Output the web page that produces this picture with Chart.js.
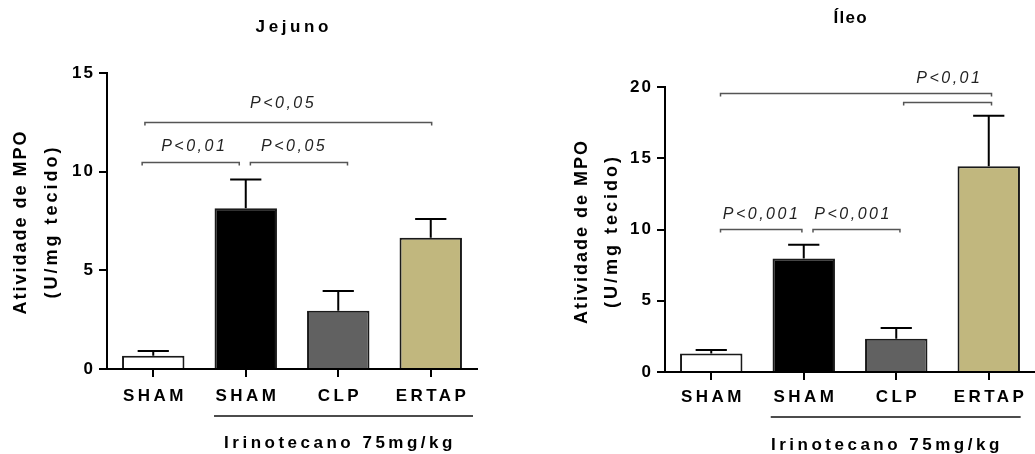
<!DOCTYPE html>
<html>
<head>
<meta charset="utf-8">
<script src="https://cdn.jsdelivr.net/npm/chart.js@4.4.0/dist/chart.umd.min.js"></script>
<style>
html, body { margin: 0; padding: 0; background: #fff; }
#wrap { position: relative; width: 1035px; height: 454px; overflow: hidden; }
#c1 { position: absolute; left: 0; top: 0; }
#c2 { position: absolute; left: 517px; top: 0; }
</style>
</head>
<body>
<div id="wrap">
	<canvas id="c1" width="517" height="454"></canvas>
	<canvas id="c2" width="518" height="454"></canvas>
</div>
<script>
// groups on the x axis
var groups = ['SHAM', 'SHAM', 'CLP', 'ERTAP'];
var groupLabel = 'Irinotecano 75mg/kg';
var yTitle = ['Atividade de MPO', '(U/mg tecido)'];

// Jejuno: mean and SEM
var jejunoMean = [0.67, 8.15, 2.95, 6.65];
var jejunoSem = [0.24, 1.45, 1.0, 0.95];
var jejunoMax = 15;
// brackets: [from category, to category, y value]
var jejunoBrackets = [[-0.12, 0.93, 10.5], [1.05, 2.1, 10.5], [-0.09, 3.01, 12.5]];
// significance labels: [text, category, y value]
var jejunoP = [['P<0,01', 0.43, 11.25], ['P<0,05', 1.51, 11.25], ['P<0,05', 1.39, 13.45]];

// Ileo
var ileoMean = [1.3, 7.97, 2.34, 14.43];
var ileoSem = [0.24, 0.96, 0.75, 3.56];
var ileoMax = 20;
var ileoBrackets = [[0.1, 0.98, 10.05], [1.1, 2.04, 10.05], [0.1, 3.03, 19.6], [2.08, 3.03, 18.94]];
var ileoP = [['P<0,001', 0.53, 11.05], ['P<0,001', 1.52, 11.05], ['P<0,01', 2.56, 20.6]];

var FONT = '"Liberation Sans", Arial, sans-serif';
var barFill = ['#ffffff', '#000000', '#616161', '#c1b77e'];

// centred text with letter spacing
function spaced(ctx, text, x, y, sp) {
	ctx.save();
	ctx.letterSpacing = sp + 'px';
	var w = ctx.measureText(text).width;
	ctx.textAlign = 'left';
	ctx.fillText(text, x - (w - sp) / 2, y);
	ctx.restore();
}

var annot = {
	id: 'annot',
	beforeDraw: function (chart) {
		chart.ctx.letterSpacing = '2px';
	},
	beforeDatasetsDraw: function (chart) {
		var ctx = chart.ctx, cfg = chart.options.plugins.annot;
		var ys = chart.scales.y;
		var meta = chart.getDatasetMeta(0);
		ctx.save();
		ctx.letterSpacing = '0px';
		ctx.strokeStyle = '#000';
		ctx.lineWidth = 2;
		meta.data.forEach(function (el, i) {
			var top = ys.getPixelForValue(cfg.mean[i] + cfg.sem[i]);
			var half = el.width / 4;
			ctx.beginPath();
			ctx.moveTo(el.x, el.y);
			ctx.lineTo(el.x, top);
			ctx.moveTo(el.x - half, top);
			ctx.lineTo(el.x + half, top);
			ctx.stroke();
		});
		ctx.restore();
	},
	afterDraw: function (chart) {
		var ctx = chart.ctx, cfg = chart.options.plugins.annot;
		var xs = chart.scales.x, ys = chart.scales.y, ca = chart.chartArea;
		ctx.save();
		ctx.letterSpacing = '0px';
		ctx.textBaseline = 'middle';

		// brackets
		ctx.strokeStyle = '#555';
		ctx.lineWidth = 1.5;
		cfg.brackets.forEach(function (b) {
			var x1 = xs.getPixelForValue(b[0]), x2 = xs.getPixelForValue(b[1]);
			var y = Math.round(ys.getPixelForValue(b[2])) + 0.5;
			ctx.beginPath();
			ctx.moveTo(x1, y + 3);
			ctx.lineTo(x1, y);
			ctx.lineTo(x2, y);
			ctx.lineTo(x2, y + 3);
			ctx.stroke();
		});
		ctx.font = 'italic 16px ' + FONT;
		ctx.fillStyle = '#222';
		cfg.pvals.forEach(function (p) {
			spaced(ctx, p[0], xs.getPixelForValue(p[1]), ys.getPixelForValue(p[2]), 2.5);
		});

		// category labels
		ctx.fillStyle = '#000';
		ctx.font = 'bold 17px ' + FONT;
		groups.forEach(function (g, i) {
			spaced(ctx, g, xs.getPixelForValue(i), ca.bottom + cfg.catDy, 3.4);
		});

		// title
		spaced(ctx, cfg.title, (ca.left + ca.right) / 2, cfg.titleY, cfg.titleSp);

		// y axis title
		ctx.font = 'bold 18px ' + FONT;
		var cy = (ca.top + ca.bottom) / 2 + cfg.yTitleShift;
		ctx.save();
		ctx.translate(ca.left + cfg.yTitleX[0], cy);
		ctx.rotate(-Math.PI / 2);
		spaced(ctx, yTitle[0], 0, 0, 2);
		ctx.restore();
		ctx.save();
		ctx.translate(ca.left + cfg.yTitleX[1], cy);
		ctx.rotate(-Math.PI / 2);
		spaced(ctx, yTitle[1], 0, 0, 3);
		ctx.restore();

		// treatment group line and label
		var gx1 = xs.getPixelForValue(cfg.groupLine[0]), gx2 = xs.getPixelForValue(cfg.groupLine[1]);
		ctx.strokeStyle = '#111';
		ctx.lineWidth = 1.5;
		ctx.beginPath();
		ctx.moveTo(gx1, ca.bottom + cfg.groupLineDy);
		ctx.lineTo(gx2, ca.bottom + cfg.groupLineDy);
		ctx.stroke();
		ctx.font = 'bold 17px ' + FONT;
		spaced(ctx, groupLabel, xs.getPixelForValue(cfg.groupLabelX), ca.bottom + cfg.groupLabelDy, 3.5);
		ctx.restore();
	}
};

function makeChart(id, cfg) {
	var tickFont = {family: FONT, size: 17, weight: 'bold'};
	return new Chart(document.getElementById(id), {
		type: 'bar',
		data: {
			labels: groups,
			datasets: [{
				data: cfg.mean,
				backgroundColor: barFill,
				borderColor: '#1a1a1a',
				borderWidth: 2,
				barPercentage: 0.675,
				categoryPercentage: 1
			}]
		},
		options: {
			responsive: false,
			animation: false,
			layout: {padding: cfg.pad},
			plugins: {
				legend: {display: false},
				tooltip: {enabled: false},
				annot: cfg
			},
			scales: {
				x: {
					offset: true,
					grid: {display: true, drawOnChartArea: false, drawTicks: true, tickLength: 8, color: '#000', lineWidth: 2, offset: false},
					border: {display: true, color: '#000', width: 2, z: 1},
					ticks: {display: false},
					afterFit: function (s) { s.height = 40; }
				},
				y: {
					min: 0,
					max: cfg.max,
					grid: {display: true, drawOnChartArea: false, drawTicks: true, tickLength: 8, color: '#000', lineWidth: 2},
					border: {display: true, color: '#000', width: 2, z: 1},
					ticks: {stepSize: 5, color: '#000', font: tickFont, padding: 4},
					afterFit: function (s) { s.width = cfg.axisW; }
				}
			}
		},
		plugins: [annot]
	});
}

makeChart('c1', {
	mean: jejunoMean, sem: jejunoSem, max: jejunoMax,
	brackets: jejunoBrackets, pvals: jejunoP,
	title: 'Jejuno', titleY: 27, titleSp: 3.6,
	pad: {top: 73, bottom: 45, left: 0, right: 40},
	axisW: 107, catDy: 27,
	yTitleX: [-86, -55], yTitleShift: 2,
	groupLine: [0.657, 3.457], groupLineDy: 47,
	groupLabelX: 2.0, groupLabelDy: 74
});

makeChart('c2', {
	mean: ileoMean, sem: ileoSem, max: ileoMax,
	brackets: ileoBrackets, pvals: ileoP,
	title: '\u00cdleo', titleY: 18, titleSp: 1.3,
	pad: {top: 87, bottom: 42, left: 0, right: 0},
	axisW: 148, catDy: 25,
	yTitleX: [-83, -53], yTitleShift: 3,
	groupLine: [0.643, 3.345], groupLineDy: 45,
	groupLabelX: 1.88, groupLabelDy: 73
});
</script>
</body>
</html>
